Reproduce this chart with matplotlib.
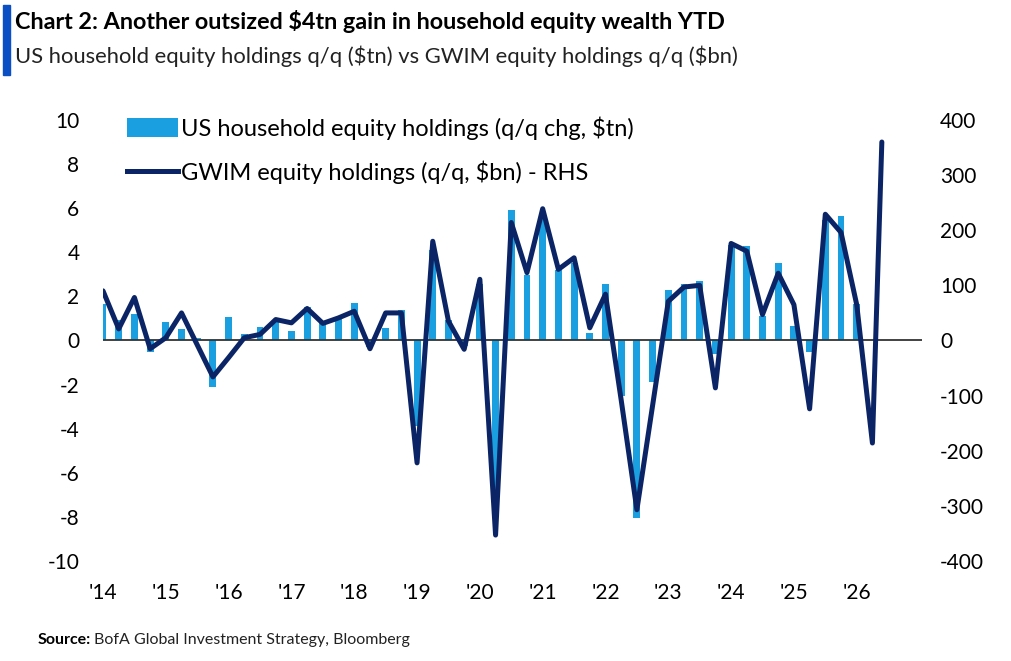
import numpy as np
import matplotlib.pyplot as plt
from matplotlib.patches import Rectangle, Patch
from matplotlib.lines import Line2D

plt.rcParams['font.family'] = ['Lato', 'DejaVu Sans']
plt.rcParams['axes.unicode_minus'] = False

############################################
# Data (quarterly)      #
############################################

# US household equity holdings, q/q chg ($tn), 2014Q1 .. 2026Q1
hh_equity = [1.65, 0.95, 1.2, -0.5, 0.85, 0.5, 0.1, -2.1,
             1.05, 0.3, 0.6, 0.95, 0.45, 1.5, 0.85, 1.0,
             1.7, -0.3, 0.55, 1.4, -3.9, 4.1, 0.95, -0.25,
             2.55, -8.0, 5.9, 2.95, 5.6, 3.2, 3.5, 0.35,
             2.55, -2.5, -8.05, -1.9, 2.3, 2.55, 2.7, -0.6,
             4.35, 4.3, 1.1, 3.5, 0.65, -0.5, 5.45, 5.65,
             1.64]

# GWIM equity holdings, q/q ($bn); the last point is a partial quarter
gwim_equity = [90, 21, 78, -15, 5, 50, -8, -66,
               -31, 5, 11, 38, 32, 58, 31, 41,
               53, -15, 50, 50, -222, 180, 35, -16,
               111, -353, 214, 123, 239, 129, 150, 23,
               84, -108, -307, -118, 71, 97, 100, -86,
               176, 162, 47, 122, 65, -124, 229, 196,
               65, -186, 360]

bar_dates = 2014 + 0.25 * np.arange(len(hh_equity))
line_dates = list(bar_dates) + [2026.25, 2026.4]

year_ticks = list(range(2014, 2027))
year_labels = ["'14", "'15", "'16", "'17", "'18", "'19", "'20",
               "'21", "'22", "'23", "'24", "'25", "'26"]

LIGHT = '#1a9fe0'
NAVY = '#0b2466'

'''
Plotting.
'''

fig = plt.figure(figsize=(10.12, 6.61), dpi=100)
ax = fig.add_axes([0.1018, 0.1513, 0.8093, 0.6672])
ax2 = ax.twinx()

ax.bar(bar_dates, hh_equity, width=0.11, color=LIGHT, zorder=2)
ax.axhline(0, color='#333333', lw=1.3, zorder=3)
ax2.plot(line_dates, gwim_equity, color=NAVY, lw=3.6,
         solid_joinstyle='round', solid_capstyle='round', zorder=4)

ax.set_xlim(2014, 2027.04)
ax.set_ylim(-10, 10)
ax2.set_ylim(-400, 400)
ax.set_yticks(range(-10, 11, 2))
ax2.set_yticks(range(-400, 401, 100))
ax.set_xticks(year_ticks)
ax.set_xticklabels(year_labels)

for a in (ax, ax2):
    for s in a.spines.values():
        s.set_visible(False)
ax.tick_params(axis='y', length=0, pad=17, labelsize=15)
ax.tick_params(axis='x', length=0, pad=16, labelsize=15)
ax2.tick_params(axis='y', length=0, pad=13, labelsize=15)

handles = [Patch(facecolor=LIGHT, edgecolor='none'),
           Line2D([], [], color=NAVY, lw=3.6)]
labels = ['US household equity holdings (q/q chg, \\$tn)',
          'GWIM equity holdings (q/q, \\$bn) - RHS']
ax2.legend(handles, labels, loc='upper left', frameon=False,
           bbox_to_anchor=(0.1255, 0.8245), bbox_transform=fig.transFigure,
           borderpad=0, borderaxespad=0, fontsize=17, handlelength=2.15,
           handleheight=0.85, handletextpad=0.12, labelspacing=0.9)

# title block
fig.patches.append(Rectangle((0.003, 0.887), 0.007, 0.106,
                             transform=fig.transFigure, color='#0a4fc4'))
fig.text(0.0148, 0.967, 'Chart 2: Another outsized \\$4tn gain in household equity wealth YTD',
         fontsize=16.8, fontweight='bold', va='center', color='black')
fig.text(0.0148, 0.915, 'US household equity holdings q/q (\\$tn) vs GWIM equity holdings q/q (\\$bn)',
         fontsize=15.8, va='center', color='#222222')

src = fig.text(0.0375, 0.032, 'Source:', fontsize=11.5, fontweight='bold', va='center')
fig.canvas.draw()
bb = src.get_window_extent().transformed(fig.transFigure.inverted())
fig.text(bb.x1 + 0.003, 0.032, 'BofA Global Investment Strategy, Bloomberg',
         fontsize=11.5, va='center', color='#222222')

plt.savefig('out.png', dpi=100)
